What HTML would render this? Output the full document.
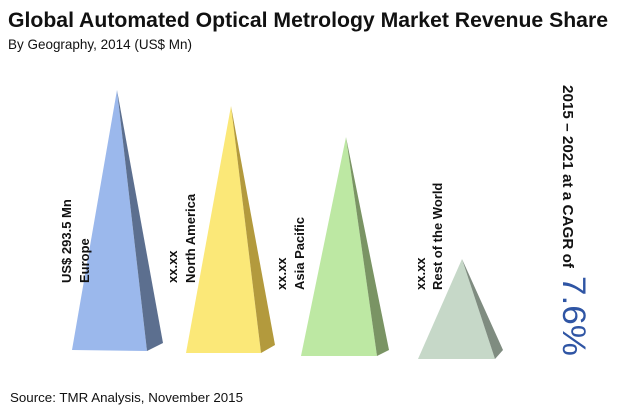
<!DOCTYPE html>
<html><head><style>
body{margin:0;background:#fff;}
svg{display:block;font-family:"Liberation Sans",sans-serif;}
</style></head><body>
<svg width="620" height="415" viewBox="0 0 620 415">
<text x="8" y="27" font-size="21" font-weight="bold" fill="#111" textLength="600" lengthAdjust="spacingAndGlyphs">Global Automated Optical Metrology Market Revenue Share</text>
<text x="8" y="49" font-size="14" fill="#111" textLength="184" lengthAdjust="spacingAndGlyphs">By Geography, 2014 (US$ Mn)</text>
<polygon points="117,90 72,350 147,351" fill="#9bb8ec"/>
<polygon points="117,90 147,351 163,343" fill="#5c6f8f"/>
<polygon points="231,106 186,353 261,353" fill="#fbe878"/>
<polygon points="231,106 261,353 275,345" fill="#b39a3d"/>
<polygon points="346,137 301,356 377,356" fill="#bde8a3"/>
<polygon points="346,137 377,356 389,350" fill="#7a9464"/>
<polygon points="462,259 418,359 495,359" fill="#c6d8c8"/>
<polygon points="462,259 495,359 503,350" fill="#7f8c80"/>
<g font-size="13" font-weight="bold" fill="#111">
<text transform="translate(71,283) rotate(-90)">US$ 293.5 Mn</text>
<text transform="translate(89,283) rotate(-90)">Europe</text>
<text transform="translate(177,283) rotate(-90)">xx.xx</text>
<text transform="translate(195,283) rotate(-90)">North America</text>
<text transform="translate(286,290) rotate(-90)">xx.xx</text>
<text transform="translate(304,290) rotate(-90)">Asia Pacific</text>
<text transform="translate(425,290) rotate(-90)">xx.xx</text>
<text transform="translate(442,290) rotate(-90)">Rest of the World</text>
</g>
<text transform="translate(563,85) rotate(90)" font-size="15" font-weight="bold" fill="#111" textLength="183" lengthAdjust="spacingAndGlyphs">2015 – 2021 at a CAGR of</text>
<text transform="translate(563,276) rotate(90)" font-size="32" fill="#2f55a4" textLength="80" lengthAdjust="spacingAndGlyphs">7.6%</text>
<text x="10" y="402" font-size="13" fill="#111" textLength="233" lengthAdjust="spacingAndGlyphs">Source: TMR Analysis, November 2015</text>
</svg>
</body></html>
